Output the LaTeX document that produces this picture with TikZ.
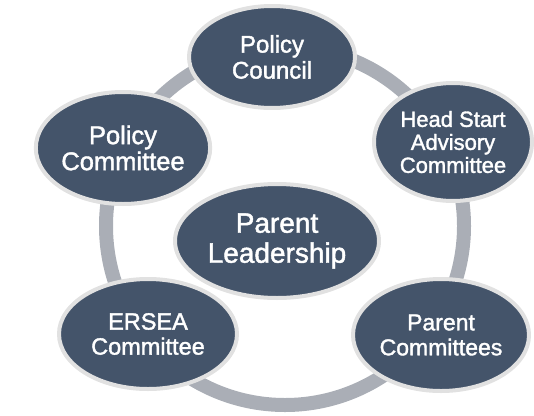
\documentclass[tikz,border=0pt]{standalone}
\usepackage{fontspec}
\setmainfont{Liberation Sans}
\newfontfamily\labelfont{Liberation Sans}[FakeBold=1.6]
\usetikzlibrary{shapes.geometric}
\definecolor{slate}{RGB}{68,84,106}
\definecolor{rim}{RGB}{225,225,225}
\definecolor{ringgrey}{RGB}{170,174,182}
\tikzset{>=stealth}

\begin{document}
\begin{tikzpicture}[x=1pt, y=-1pt,
    bubble/.style={ellipse, draw=rim, line width=4pt, fill=slate, text=white,
        inner sep=0pt, align=center},
    fsz/.style 2 args={font=\labelfont\fontsize{#1}{#2}\selectfont}]
    \useasboundingbox (0,0) rectangle (534,415);
    \coordinate (ctr) at (285,226);
    \draw[ringgrey, line width=14pt] (ctr) circle (179pt);
    \node[bubble, fsz={24}{26}, minimum width=166pt, minimum height=102pt] (council) at (272,57) {Policy\\Council};
    \node[bubble, fsz={22}{23}, minimum width=158pt, minimum height=118pt] (hsac) at (453,142) {Head Start\\Advisory\\Committee};
    \node[bubble, fsz={25.5}{26}, minimum width=166pt, minimum height=112pt] (pcom) at (123,148) {Policy\\Committee};
    \node[bubble, fsz={23}{25}, minimum width=176pt, minimum height=112pt] (pcs) at (441,335) {Parent\\Committees};
    \node[bubble, fsz={23.5}{25}, minimum width=178pt, minimum height=110pt] (ersea) at (148,334) {ERSEA\\Committee};
    \node[bubble, fsz={28}{30}, minimum width=204pt, minimum height=114pt] (lead) at (277,241) {Parent\\Leadership};
\end{tikzpicture}
\end{document}
